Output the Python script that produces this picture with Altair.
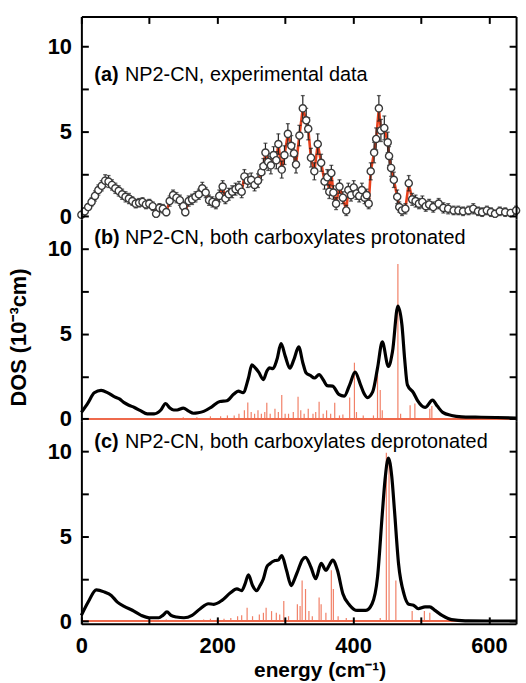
import altair as alt
import pandas as pd

# ---------------- data ----------------
# (a) experimental DOS: energy (cm-1), DOS (1e-3 cm), error
exp_energy = [0, 5, 10, 15, 20, 25, 30, 35, 40, 45,
              50, 55, 60, 65, 70, 75, 80, 85, 90, 95,
              100, 105, 110, 115, 120, 125, 130, 135, 140, 145,
              150, 153, 158, 163, 168, 173, 178, 183, 188, 193,
              198, 203, 208, 212, 217, 222, 227, 232, 236, 240,
              245, 250, 255, 260, 265, 268, 271, 275, 279, 283,
              287, 290, 295, 299, 304, 309, 313, 316, 321, 326,
              331, 334, 338, 343, 348, 353, 358, 362, 365, 368,
              371, 375, 380, 385, 390, 393, 397, 401, 405, 409,
              413, 417, 420, 423, 426, 431, 434, 438, 441, 446,
              451, 453, 456, 460, 465, 468, 472, 477, 482, 487,
              492, 497, 502, 507, 512, 518, 526, 533, 540, 548,
              555, 562, 570, 577, 584, 590, 597, 603, 609, 616,
              624, 632, 640]
exp_dos = [0.1, 0.3, 0.55, 0.85, 1.2, 1.55, 1.8, 2.1, 2.05, 1.85,
           1.65, 1.5, 1.3, 1.15, 1.05, 0.9, 0.75, 0.8, 0.85, 0.7,
           0.75, 0.6, 0.15, 0.5, 0.45, 0.25, 0.9, 1.25, 1.1, 0.95,
           0.6, 0.25, 0.9, 1.0, 1.15, 1.3, 1.65, 1.4, 0.95, 0.85,
           0.75, 1.2, 1.75, 1.05, 1.3, 1.45, 1.6, 1.7, 1.45, 2.35,
           2.1, 2.15, 1.85, 2.1, 2.6, 2.95, 3.75, 3.2, 3.0, 3.6,
           3.3, 4.25, 2.75, 3.6, 4.85, 4.15, 3.7, 3.05, 4.75, 6.35,
           5.65, 5.15, 3.45, 2.65, 4.25, 3.15, 2.05, 2.3, 1.45, 2.55,
           1.4, 0.75, 1.75, 1.1, 0.35, 1.55, 1.25, 1.7, 1.35, 1.2,
           1.55, 1.1, 1.25, 0.75, 2.65, 3.75, 4.55, 6.35, 5.05, 5.2,
           4.35, 3.55, 2.85, 2.15, 1.15, 0.55, 0.35, 0.45, 1.95, 1.0,
           0.9, 0.75, 0.85, 0.6, 0.7, 0.55, 0.75, 0.5, 0.45, 0.35,
           0.35, 0.3, 0.35, 0.45, 0.3, 0.25, 0.35, 0.25, 0.15, 0.3,
           0.25, 0.2, 0.35]
exp_err = [0.15, 0.2, 0.2, 0.25, 0.3, 0.3, 0.3, 0.35, 0.35, 0.3,
           0.3, 0.3, 0.3, 0.3, 0.3, 0.25, 0.25, 0.25, 0.25, 0.25,
           0.25, 0.25, 0.2, 0.25, 0.25, 0.2, 0.3, 0.3, 0.3, 0.3,
           0.25, 0.2, 0.3, 0.3, 0.3, 0.3, 0.35, 0.3, 0.3, 0.3,
           0.3, 0.35, 0.35, 0.3, 0.35, 0.35, 0.35, 0.35, 0.35, 0.4,
           0.4, 0.4, 0.35, 0.4, 0.45, 0.45, 0.55, 0.5, 0.5, 0.5,
           0.5, 0.6, 0.5, 0.55, 0.6, 0.6, 0.55, 0.5, 0.6, 0.75,
           0.7, 0.65, 0.55, 0.5, 0.6, 0.5, 0.45, 0.45, 0.4, 0.45,
           0.4, 0.35, 0.4, 0.35, 0.3, 0.4, 0.35, 0.4, 0.35, 0.35,
           0.4, 0.35, 0.35, 0.3, 0.5, 0.6, 0.65, 0.75, 0.65, 0.7,
           0.6, 0.55, 0.5, 0.45, 0.4, 0.3, 0.3, 0.3, 0.45, 0.35,
           0.35, 0.3, 0.35, 0.3, 0.3, 0.3, 0.3, 0.3, 0.3, 0.25,
           0.25, 0.25, 0.25, 0.3, 0.25, 0.25, 0.25, 0.25, 0.2, 0.25,
           0.25, 0.2, 0.25]

# (b) calculated DOS, both carboxylates protonated
prot_energy = [0, 10, 19, 29, 39, 49, 56, 63, 70, 78,
               87, 97, 107, 117, 124, 130, 136, 141, 150, 158,
               165, 172, 180, 192, 204, 214, 224, 231, 238, 246,
               251, 256, 261, 268, 273, 277, 282, 288, 294, 300,
               307, 313, 320, 326, 331, 337, 343, 350, 356, 362,
               370, 379, 387, 395, 403, 411, 416, 421, 429, 436,
               443, 452, 458, 466, 472, 476, 480, 489, 495, 506,
               517, 524, 532, 545, 560, 580, 610, 640]
prot_dos = [0.38, 0.96, 1.53, 1.67, 1.53, 1.29, 1.17, 0.95, 0.8, 0.67,
            0.48, 0.29, 0.29, 0.52, 0.9, 0.65, 0.52, 0.52, 0.63, 0.45,
            0.33, 0.36, 0.44, 0.71, 1.02, 1.06, 1.44, 1.63, 1.54, 2.4,
            3.17, 3.0, 2.75, 2.31, 2.8, 3.0, 2.95, 3.5, 4.42, 3.7,
            2.98, 3.5, 4.23, 3.3, 2.69, 2.55, 2.4, 2.6, 2.3, 1.95,
            1.92, 1.44, 1.34, 2.0, 2.75, 2.0, 1.5, 1.25, 1.6, 2.98,
            4.52, 3.08, 3.94, 6.63, 5.5, 3.5, 2.0, 1.53, 1.07, 0.67,
            1.1, 0.75, 0.38, 0.2, 0.12, 0.1, 0.08, 0.05]
prot_stick_energy = [150, 170, 190, 205, 215, 225, 232, 240, 245, 250,
                     255, 260, 265, 270, 273, 278, 285, 290, 295, 300,
                     305, 312, 319, 323, 328, 334, 341, 345, 350, 356,
                     361, 367, 373, 380, 385, 395, 402, 405, 415, 430,
                     436, 440, 443, 466, 470, 484, 491, 513, 516]
prot_stick_height = [0.1, 0.1, 0.15, 0.15, 0.2, 0.2, 0.3, 0.5, 0.96, 0.4,
                     0.3, 0.5, 0.3, 0.4, 0.94, 0.3, 0.6, 0.4, 1.4, 0.3,
                     0.3, 0.4, 1.3, 0.5, 0.3, 0.6, 0.3, 0.4, 1.0, 0.3,
                     0.5, 0.3, 0.94, 0.2, 0.25, 1.25, 3.3, 0.4, 0.2, 0.2,
                     2.9, 1.7, 0.5, 9.1, 0.3, 0.8, 0.9, 0.6, 0.75]

# (c) calculated DOS, both carboxylates deprotonated
deprot_energy = [0, 10, 22, 34, 44, 53, 63, 75, 88, 100,
                 114, 120, 126, 132, 140, 151, 163, 175, 187, 195,
                 207, 219, 229, 236, 241, 246, 252, 258, 263, 268,
                 273, 277, 285, 290, 295, 302, 309, 314, 319, 325,
                 330, 338, 345, 353, 360, 365, 370, 377, 385, 395,
                 406, 419, 428, 436, 443, 447, 452, 457, 461, 467,
                 475, 482, 489, 496, 506, 513, 520, 531, 545, 565,
                 600, 640]
deprot_dos = [0.35, 1.13, 1.85, 1.72, 1.52, 1.13, 0.88, 0.65, 0.35, 0.21,
              0.21, 0.35, 0.55, 0.35, 0.25, 0.21, 0.35, 0.74, 1.03, 1.0,
              1.23, 1.66, 1.91, 1.8, 2.2, 2.73, 2.1, 1.8, 2.1, 2.5,
              3.2, 3.37, 3.57, 3.6, 3.86, 3.0, 2.1, 2.5, 3.0, 3.6,
              3.76, 3.18, 2.5, 3.41, 3.0, 3.3, 3.6, 3.0, 1.62, 0.95,
              0.64, 0.64, 1.03, 2.6, 6.3, 8.3, 9.6, 8.5, 6.5, 3.37,
              1.6, 1.0, 0.95, 0.74, 0.85, 0.85, 0.66, 0.35, 0.1, 0.03,
              0.02, 0.02]
deprot_stick_energy = [125, 180, 190, 200, 210, 220, 230, 236, 244, 252,
                       262, 268, 272, 280, 287, 292, 298, 305, 318, 322,
                       325, 330, 335, 340, 350, 353, 360, 368, 371, 378,
                       390, 440, 449, 453, 463, 487, 505, 513]
deprot_stick_height = [0.1, 0.1, 0.15, 0.1, 0.15, 0.2, 0.3, 0.35, 0.8, 0.3,
                       0.4, 0.5, 0.8, 0.6, 0.5, 0.4, 1.2, 0.3, 1.0, 0.9,
                       2.4, 1.9, 0.6, 0.3, 1.4, 1.0, 0.5, 3.0, 1.9, 0.3,
                       0.2, 0.2, 9.9, 9.6, 2.4, 0.6, 0.6, 0.5]

panel_tags = ["(a)", "(b)", "(c)"]
panel_texts = ["NP2-CN, experimental data",
               "NP2-CN, both carboxylates protonated",
               "NP2-CN, both carboxylates deprotonated"]
x_ticks = [0, 100, 200, 300, 400, 500, 600]
y_ticks = [0, 2.5, 5, 7.5, 10]
x_domain = [0, 640]
y_domain = [-0.15, 11.75]

# ---------------- style ----------------
FONT = "Liberation Sans"
W, H = 438, 204
RED = "#e8401c"
STICK = "#ee6a4c"

xs = alt.Scale(domain=x_domain, nice=False, zero=False)
ys = alt.Scale(domain=y_domain, nice=False, zero=False)


def axis(orient, values, labels=False, label_expr=None, pad=0, **extra):
    props = dict(orient=orient, values=values, domain=True, domainColor="black",
                 domainWidth=2, ticks=True, tickSize={"expr": "-7"}, tickColor="black",
                 tickWidth=2, grid=False, labels=labels, zindex=1, title=None)
    if labels:
        props.update(labelFont=FONT, labelFontSize=22, labelFontWeight="bold",
                     labelColor="black", labelPadding=pad, labelFlush=False,
                     labelOverlap=False, labelExpr=label_expr)
    props.update(extra)
    return alt.Axis(**props)


Y_LABELS = "datum.value % 5 === 0 ? datum.label : ''"
X_LABELS = "datum.value % 200 === 0 ? datum.label : ''"


def texts(i, y):
    d = pd.DataFrame({"tag": [panel_tags[i]], "txt": [panel_texts[i]]})
    tag = alt.Chart(d).mark_text(align="left", baseline="middle", font=FONT,
                                 fontSize=20, fontWeight="bold", color="black").encode(
        x=alt.value(13), y=alt.value(y), text="tag:N")
    body = alt.Chart(d).mark_text(align="left", baseline="middle", font=FONT,
                                  fontSize=20, color="black").encode(
        x=alt.value(44), y=alt.value(y), text="txt:N")
    return [tag, body]


# ---------------- panel (a) ----------------
dfa = pd.DataFrame({"e": exp_energy, "v": exp_dos, "err": exp_err})
base_a = alt.Chart(dfa).transform_calculate(lo="datum.v - datum.err", hi="datum.v + datum.err")
line_a = base_a.mark_line(color=RED, strokeWidth=2.6).encode(
    x=alt.X("e:Q", scale=xs, axis=axis("top", x_ticks)),
    y=alt.Y("v:Q", scale=ys, axis=axis("left", y_ticks, True, Y_LABELS, 17)))
bars_a = base_a.mark_rule(color="#222222", strokeWidth=1.2).encode(
    x=alt.X("e:Q", scale=xs, axis=None),
    y=alt.Y("lo:Q", scale=ys, axis=None), y2="hi:Q")
caps_top = base_a.mark_tick(orient="horizontal", size=4, thickness=1.3, color="#222222").encode(
    x=alt.X("e:Q", scale=xs, axis=None), y=alt.Y("hi:Q", scale=ys, axis=None))
caps_bot = base_a.mark_tick(orient="horizontal", size=4, thickness=1.3, color="#222222").encode(
    x=alt.X("e:Q", scale=xs, axis=None), y=alt.Y("lo:Q", scale=ys, axis=None))
pts_a = base_a.mark_point(shape="circle", filled=False, fill="white", fillOpacity=1,
                          stroke="#3a3a3a", strokeWidth=1.4, size=52, opacity=1).encode(
    x=alt.X("e:Q", scale=xs, axis=None),
    y=alt.Y("v:Q", scale=ys, axis=axis("right", y_ticks)))
panel_a = alt.layer(line_a, bars_a, caps_top, caps_bot, pts_a, *texts(0, 59)).resolve_axis(
    x="independent", y="independent").properties(width=W, height=H)


# ---------------- panels (b) and (c) ----------------
def calc_panel(energy, dos, s_e, s_h, idx, text_y, bottom=False, ytitle=False):
    dfc = pd.DataFrame({"e": energy, "v": dos})
    dfs = pd.DataFrame({"e": s_e, "h": s_h})
    base_line = alt.Chart(dfs).mark_rule(color=STICK, strokeWidth=1.2).encode(
        x=alt.XDatum(x_domain[0], scale=xs, axis=None), x2=alt.X2Datum(x_domain[1]),
        y=alt.YDatum(0, scale=ys, axis=None))
    sticks = alt.Chart(dfs).mark_rule(color=STICK, strokeWidth=1.2, opacity=0.85).encode(
        x=alt.X("e:Q", scale=xs, axis=None),
        y=alt.Y("h:Q", scale=ys, axis=axis("right", y_ticks)),
        y2=alt.Y2Datum(0))
    extra = {}
    if ytitle:
        extra = dict(title="DOS (10⁻³cm)", titleFont=FONT, titleFontSize=22,
                     titleFontWeight="bold", titleColor="black", titleAngle=270,
                     titleX=-56, titleY=119, titleAlign="center", titleBaseline="alphabetic")
    yax = axis("left", y_ticks, True, Y_LABELS, 17, **extra)
    if bottom:
        xax = axis("bottom", x_ticks, True, X_LABELS, 19,
                   title="energy (cm⁻¹)", titleFont=FONT, titleFontSize=21,
                   titleFontWeight="bold", titleColor="black", titleX=240, titleY=53,
                   titleAlign="center", titleBaseline="alphabetic")
    else:
        xax = None
    curve = alt.Chart(dfc).mark_line(color="black", strokeWidth=3.2, interpolate="monotone").encode(
        x=alt.X("e:Q", scale=xs, axis=xax),
        y=alt.Y("v:Q", scale=ys, axis=yax))
    return alt.layer(base_line, sticks, curve, *texts(idx, text_y)).resolve_axis(
        x="independent", y="independent").properties(width=W, height=H)


panel_b = calc_panel(prot_energy, prot_dos, prot_stick_energy, prot_stick_height, 1, 19,
                     ytitle=True)
panel_c = calc_panel(deprot_energy, deprot_dos, deprot_stick_energy, deprot_stick_height, 2, 21,
                     bottom=True)

chart = alt.vconcat(panel_a, panel_b, panel_c, spacing=0, bounds="flush").properties(
    padding={"left": 8, "top": 13, "right": 3, "bottom": 2}, background="white"
).configure_view(stroke=None)

chart.save("out.html", embed_options={"renderer": "svg", "actions": False})
